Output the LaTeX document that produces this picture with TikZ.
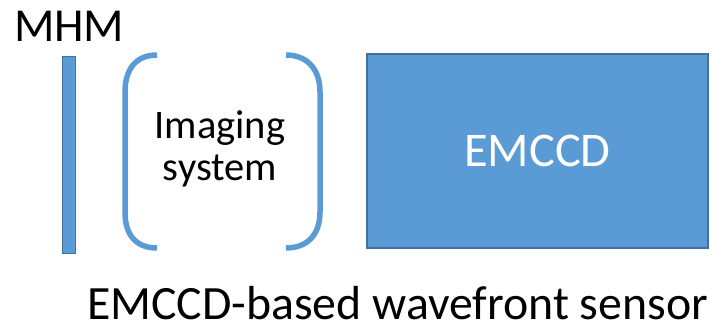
\documentclass[tikz,border=0pt]{standalone}
\usepackage{fontspec}
\setmainfont{Carlito}
\definecolor{accblue}{HTML}{5B9BD5}
\definecolor{accdark}{HTML}{41719C}
\tikzset{
  lbl/.style={inner sep=0pt, outer sep=0pt, text=black},
  bigfont/.style={font=\fontsize{47.3}{50}\selectfont},
  midfont/.style={font=\fontsize{40.5}{42}\selectfont},
  bluebox/.style={draw=accdark, fill=accblue, line width=1.5pt, inner sep=0pt, outer sep=0pt},
  bracket/.style={draw=accblue, line width=5.5pt, line cap=butt}
}
\begin{document}
\begin{tikzpicture}[x=1pt,y=-1pt]
\useasboundingbox (0,0) rectangle (714,331);
% MHM label and mirror bar
\node[lbl,bigfont,anchor=base west] (mhm) at (14,42) {MHM};
\node[bluebox,line width=1pt,minimum width=13pt,minimum height=196pt] (bar) at (68.5,155) {};
% imaging system brackets
\draw[bracket] (157,55) .. controls (137,55) and (125,68) .. (125,92)
  -- (125,212) .. controls (125,236) and (137,248) .. (157,248);
\draw[bracket] (286,55) .. controls (306,55) and (320,68) .. (320,92)
  -- (320,212) .. controls (320,236) and (306,248) .. (286,248);
\node[lbl,midfont,align=center,anchor=base] (img) at (220,181) {Imaging\\system};
% EMCCD box
\node[bluebox,minimum width=341pt,minimum height=194pt,text=white,
  font=\fontsize{48.4}{50}\selectfont] (emccd) at (537.5,151) {EMCCD};
% caption
\node[lbl,font=\fontsize{47.8}{50}\selectfont,anchor=base west] (cap) at (87,319.5) {EMCCD-based wavefront sensor};
\end{tikzpicture}
\end{document}
